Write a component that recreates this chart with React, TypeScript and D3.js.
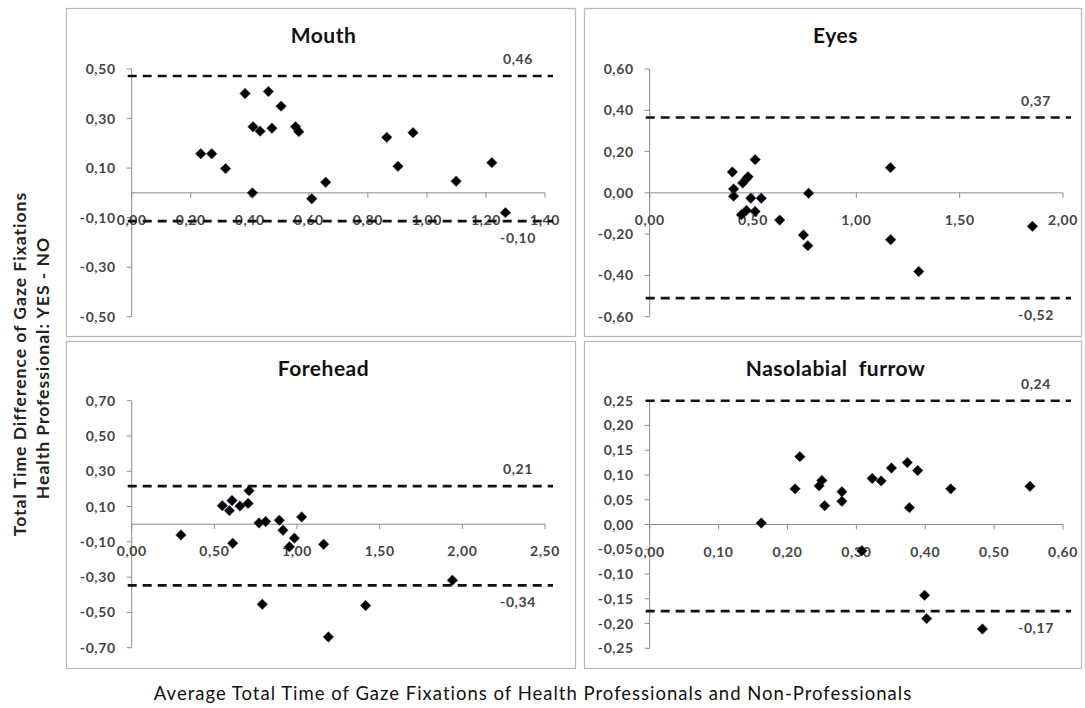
import React from "react";
import * as d3 from "d3";

// ---------- DATA ----------
const mouthX = [0.234, 0.271, 0.318, 0.384, 0.409, 0.411, 0.435, 0.463, 0.475, 0.506, 0.555, 0.566, 0.61, 0.657, 0.864, 0.902, 0.953, 1.099, 1.22, 1.266];
const mouthY = [0.158, 0.158, 0.098, 0.401, 0.0, 0.267, 0.249, 0.409, 0.261, 0.35, 0.267, 0.247, -0.024, 0.043, 0.224, 0.107, 0.243, 0.047, 0.122, -0.08];

const eyesX = [0.4, 0.406, 0.406, 0.444, 0.45, 0.468, 0.476, 0.468, 0.489, 0.51, 0.51, 0.54, 0.629, 0.744, 0.765, 0.769, 1.165, 1.166, 1.302, 1.852];
const eyesY = [0.101, 0.019, -0.016, -0.106, 0.048, 0.068, 0.078, -0.085, -0.026, 0.161, -0.09, -0.026, -0.132, -0.204, -0.256, -0.002, 0.122, -0.227, -0.381, -0.162];

const foreheadX = [0.298, 0.548, 0.591, 0.607, 0.611, 0.655, 0.704, 0.71, 0.77, 0.79, 0.81, 0.893, 0.915, 0.954, 0.984, 1.028, 1.161, 1.19, 1.415, 1.94];
const foreheadY = [-0.061, 0.105, 0.077, 0.134, -0.108, 0.103, 0.118, 0.19, 0.007, -0.454, 0.015, 0.022, -0.034, -0.128, -0.079, 0.041, -0.114, -0.639, -0.461, -0.318];

const nasoX = [0.162, 0.211, 0.218, 0.246, 0.25, 0.254, 0.279, 0.279, 0.308, 0.323, 0.336, 0.351, 0.374, 0.377, 0.389, 0.399, 0.402, 0.437, 0.483, 0.552];
const nasoY = [0.003, 0.072, 0.137, 0.078, 0.089, 0.038, 0.066, 0.047, -0.053, 0.093, 0.088, 0.114, 0.125, 0.034, 0.109, -0.143, -0.19, 0.072, -0.211, 0.077];

// limits of agreement: [upper, lower] drawn position and label
const mouthLimits = [0.472, -0.114];
const mouthLimitLabels = ["0,46", "-0,10"];
const eyesLimits = [0.365, -0.51];
const eyesLimitLabels = ["0,37", "-0,52"];
const foreheadLimits = [0.216, -0.347];
const foreheadLimitLabels = ["0,21", "-0,34"];
const nasoLimits = [0.25, -0.175];
const nasoLimitLabels = ["0,24", "-0,17"];

const mouthXTicks = [0, 0.2, 0.4, 0.6, 0.8, 1.0, 1.2, 1.4];
const mouthYTicks = [-0.5, -0.3, -0.1, 0.1, 0.3, 0.5];
const eyesXTicks = [0, 0.5, 1.0, 1.5, 2.0];
const eyesYTicks = [-0.6, -0.4, -0.2, 0, 0.2, 0.4, 0.6];
const foreheadXTicks = [0, 0.5, 1.0, 1.5, 2.0, 2.5];
const foreheadYTicks = [-0.7, -0.5, -0.3, -0.1, 0.1, 0.3, 0.5, 0.7];
const nasoXTicks = [0, 0.1, 0.2, 0.3, 0.4, 0.5, 0.6];
const nasoYTicks = [-0.25, -0.2, -0.15, -0.1, -0.05, 0, 0.05, 0.1, 0.15, 0.2, 0.25];

const titles = ["Mouth", "Eyes", "Forehead", "Nasolabial  furrow"];
const yTitleLines = ["Total Time Difference of Gaze Fixations", "Health Professional: YES - NO"];
const xTitle = "Average Total Time of Gaze Fixations of Health Professionals and Non-Professionals";

// ---------- LAYOUT ----------
const locale = d3.formatLocale({ decimal: ",", thousands: ".", grouping: [3], currency: ["", ""], minus: "-" });
const fmt = locale.format(".2f");

type Panel = {
  title: string;
  box: [number, number, number, number];
  xr: [number, number];
  yr: [number, number];
  xDomain: [number, number];
  yDomain: [number, number];
  xTicks: number[];
  yTicks: number[];
  xs: number[];
  ys: number[];
  limits: number[];
  limitLabels: string[];
};

const panels: Panel[] = [
  { title: titles[0], box: [66, 8, 575, 336], xr: [131.7, 545], yr: [316.7, 69], xDomain: [0, 1.4], yDomain: [-0.5, 0.5], xTicks: mouthXTicks, yTicks: mouthYTicks, xs: mouthX, ys: mouthY, limits: mouthLimits, limitLabels: mouthLimitLabels },
  { title: titles[1], box: [584, 8, 1081, 336], xr: [649.7, 1063], yr: [316.7, 69], xDomain: [0, 2], yDomain: [-0.6, 0.6], xTicks: eyesXTicks, yTicks: eyesYTicks, xs: eyesX, ys: eyesY, limits: eyesLimits, limitLabels: eyesLimitLabels },
  { title: titles[2], box: [66, 341, 575, 668], xr: [131.7, 545], yr: [647.7, 400.7], xDomain: [0, 2.5], yDomain: [-0.7, 0.7], xTicks: foreheadXTicks, yTicks: foreheadYTicks, xs: foreheadX, ys: foreheadY, limits: foreheadLimits, limitLabels: foreheadLimitLabels },
  { title: titles[3], box: [584, 341, 1081, 668], xr: [649.7, 1063], yr: [648.3, 400.7], xDomain: [0, 0.6], yDomain: [-0.25, 0.25], xTicks: nasoXTicks, yTicks: nasoYTicks, xs: nasoX, ys: nasoY, limits: nasoLimits, limitLabels: nasoLimitLabels },
];

const FONT = "Lato, 'Open Sans', sans-serif";
const diamond = d3.symbol().type(d3.symbolSquare).size(54)();

const tickTextProps = {
  fontFamily: FONT,
  fontSize: 14,
  fontWeight: "bold",
  letterSpacing: 0.6,
  fill: "#454545",
};

function PanelView({ p }: { p: Panel }) {
  const x = d3.scaleLinear().domain(p.xDomain).range(p.xr);
  const y = d3.scaleLinear().domain(p.yDomain).range(p.yr);
  const [bx0, by0, bx1, by1] = p.box;
  const x0 = x(0);
  const y0 = y(0);
  const xEnd = x(p.xDomain[1]);
  return (
    <g>
      <rect x={bx0 + 0.5} y={by0 + 0.5} width={bx1 - bx0} height={by1 - by0} fill="#fff" stroke="#b8b8b8" strokeWidth={1.2} />
      <text x={(bx0 + bx1) / 2 + 3} y={by0 + 34.5} textAnchor="middle" fontFamily={FONT} fontWeight="bold" fontSize={21} letterSpacing={0.5} fill="#111" style={{ whiteSpace: "pre" }}>{p.title}</text>
      {/* y axis */}
      <line x1={x0} x2={x0} y1={y(p.yDomain[0])} y2={y(p.yDomain[1])} stroke="#8c8c8c" strokeWidth={1} />
      {p.yTicks.map((t, i) => (
        <g key={"yt" + i}>
          <line x1={x0 - 5} x2={x0} y1={y(t)} y2={y(t)} stroke="#8c8c8c" />
          <text x={x0 - 16} y={y(t) + 5} textAnchor="end" {...tickTextProps}>{fmt(t)}</text>
        </g>
      ))}
      {/* x axis */}
      <line x1={x0} x2={xEnd} y1={y0} y2={y0} stroke="#8c8c8c" strokeWidth={1} />
      {p.xTicks.map((t, i) => (
        <g key={"xt" + i}>
          <line x1={x(t)} x2={x(t)} y1={y0} y2={y0 + 5} stroke="#8c8c8c" />
          <text x={x(t)} y={y0 + 32} textAnchor="middle" {...tickTextProps}>{fmt(t)}</text>
        </g>
      ))}
      {/* limit lines */}
      {p.limits.map((v, i) => (
        <g key={"lim" + i}>
          <line x1={x0 - 4} x2={xEnd + 8} y1={y(v)} y2={y(v)} stroke="#111" strokeWidth={2.6} strokeDasharray="9,6" />
          <text x={xEnd - 27} y={y(v) + (i === 0 ? -12 : 22)} textAnchor="middle" {...tickTextProps}>{p.limitLabels[i]}</text>
        </g>
      ))}
      {/* points */}
      {p.xs.map((xv, i) => (
        <path key={"pt" + i} d={diamond || ""} transform={`translate(${x(xv)},${y(p.ys[i])}) rotate(45)`} fill="#000" stroke="#1f2d4d" strokeWidth={0.6} />
      ))}
    </g>
  );
}

export default function App() {
  return (
    <svg width={1085} height={708} style={{ position: "absolute", left: 0, top: 0, background: "#fff" }}>
      <rect x={0} y={0} width={1085} height={708} fill="#fff" />
      {panels.map((p, i) => (
        <PanelView key={i} p={p} />
      ))}
      <text transform="translate(26,364) rotate(-90)" textAnchor="middle" fontFamily={FONT} fontWeight="bold" fontSize={17.5} letterSpacing={1} fill="#222">{yTitleLines[0]}</text>
      <text transform="translate(49,368) rotate(-90)" textAnchor="middle" fontFamily={FONT} fontWeight="bold" fontSize={17.5} letterSpacing={1} fill="#222">{yTitleLines[1]}</text>
      <text x={533} y={700} textAnchor="middle" fontFamily={FONT} fontSize={18.5} letterSpacing={1} fill="#111">{xTitle}</text>
    </svg>
  );
}
